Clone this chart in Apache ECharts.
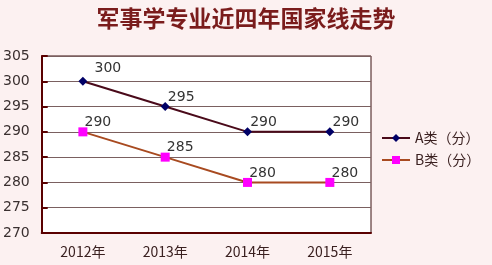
<!DOCTYPE html>
<html><head><meta charset="utf-8">
<script src="https://cdn.jsdelivr.net/npm/echarts@6/dist/echarts.min.js"></script>
<style>html,body{margin:0;padding:0;background:#fcf1f1;}#c{width:492px;height:265px;}</style>
</head><body><div id="c"></div>
<script>
const categories = ['2012年','2013年','2014年','2015年'];
const seriesA = [300, 295, 290, 290];
const seriesB = [290, 285, 280, 280];
const nameA = 'A类（分）';
const nameB = 'B类（分）';
const chart = echarts.init(document.getElementById('c'));
const font = '"Noto Sans CJK SC", "DejaVu Sans", sans-serif';
const numFont = '"DejaVu Sans", sans-serif';
const dataA = seriesA.map((v, i) => i === 0 ? {value: v, label: {offset: [25, 4]}} : v);
chart.setOption({
  backgroundColor: '#fcf1f1',
  animation: false,
  title: {
    text: '军事学专业近四年国家线走势', left: 'center', top: 2,
    textStyle: {color: '#7a1c1c', fontSize: 23, fontWeight: 'bold', fontFamily: font}
  },
  legend: {
    orient: 'vertical', left: 376, top: 126, itemGap: 8, itemWidth: 28, itemHeight: 10,
    textStyle: {color: '#3a2020', fontSize: 14, fontFamily: font},
    data: [nameA, nameB]
  },
  grid: {left: 40, right: 121, top: 56, bottom: 32, show: true, backgroundColor: '#ffffff', borderColor: '#3a1010', borderWidth: 1},
  xAxis: {
    type: 'category', data: categories, boundaryGap: true,
    axisLine: {lineStyle: {color: '#5a0000', width: 2}},
    axisTick: {inside: true, length: 6, lineStyle: {color: '#5a0000', width: 2}},
    axisLabel: {color: '#3a2020', fontSize: 14, margin: 12, fontFamily: font}
  },
  yAxis: {
    type: 'value', min: 270, max: 305, interval: 5,
    axisLine: {show: true, lineStyle: {color: '#5a0000', width: 2}},
    axisTick: {show: true, inside: true, length: 6, lineStyle: {color: '#5a0000', width: 2}},
    axisLabel: {color: '#3a3030', fontSize: 14, margin: 12, fontFamily: numFont},
    splitLine: {lineStyle: {color: '#7a6060', width: 1}}
  },
  series: [
    {name: nameA, type: 'line', data: dataA, symbol: 'diamond', symbolSize: 9,
     lineStyle: {color: '#4a0a1a', width: 2}, itemStyle: {color: '#000066'},
     label: {show: true, position: 'top', offset: [16, 7], color: '#333', fontSize: 14, fontFamily: numFont}},
    {name: nameB, type: 'line', data: seriesB, symbol: 'rect', symbolSize: 9,
     lineStyle: {color: '#a84a20', width: 2}, itemStyle: {color: '#ff00ff'},
     label: {show: true, position: 'top', offset: [15, 7], color: '#333', fontSize: 14, fontFamily: numFont}}
  ]
});
</script></body></html>
